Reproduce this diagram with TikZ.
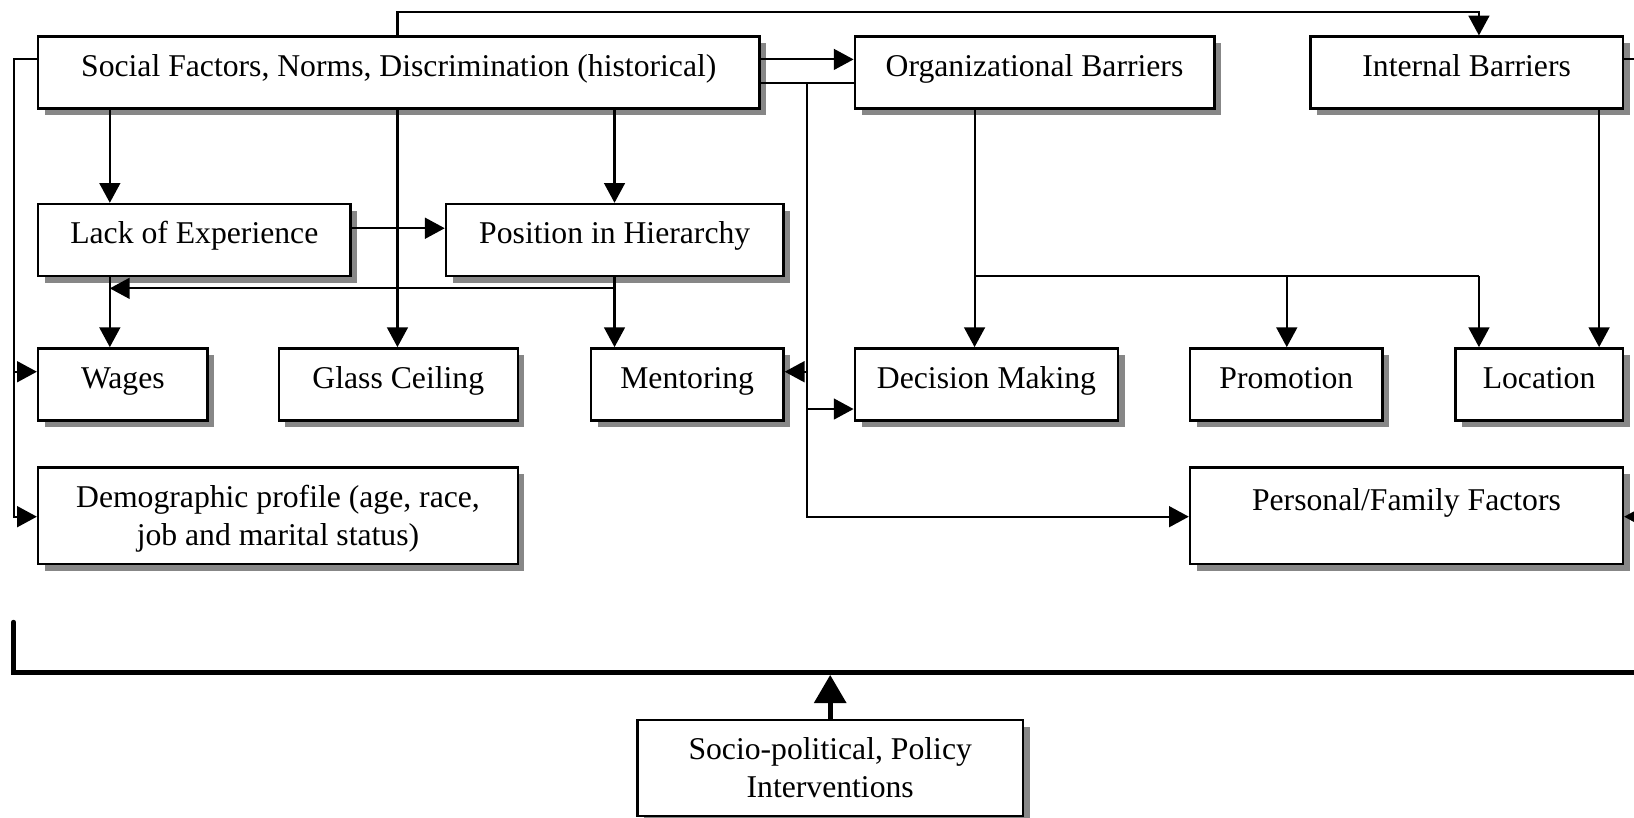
\documentclass[tikz,border=0pt]{standalone}
\usepackage{fontspec}
\setmainfont{Liberation Serif}
\usetikzlibrary{arrows.meta,shadows}
\tikzset{
  mybox/.style={draw, line width=1.2pt, fill=white, inner sep=0pt, align=center,
    font=\fontsize{15.2}{18.3}\selectfont,
    drop shadow={shadow xshift=3.2pt, shadow yshift=-3.2pt, fill=black!47, opacity=1}},
  oneline/.style={text height=9.1pt, text depth=5.5pt},
  cn/.style={line width=1pt},
  myarr/.style={-{Triangle[length=9.5pt,width=10pt]}},
  thickbus/.style={line width=2.3pt},
  thickarr/.style={line width=2.5pt, -{Triangle[length=13.5pt,width=15pt]}}
}
\newcommand\Bx[7][]{\node[mybox,#1,minimum width={(#5-#3)*0.5pt},minimum height={(#6-#4)*0.5pt}] (#2) at ({(#3+#5)/2},{(#4+#6)/2}) {#7};}
\newcommand\topstrut{\rule{0pt}{13.5pt}}
\begin{document}
\begin{tikzpicture}[x=0.5pt,y=-0.5pt]
\useasboundingbox (0,0) rectangle (1568,784);
\clip (0,0) rectangle (1568,784);
% coordinates for connector routes
\coordinate (topL) at (381.4,11.5);
\coordinate (topR) at (1419.2,11.5);
\coordinate (lbTop) at (13.5,57);
\coordinate (lbW) at (13.5,356.7);
\coordinate (lbD) at (13.5,495.8);
\coordinate (xLack) at (105.4,0);
\coordinate (xPos) at (589.7,0);
\coordinate (yLP) at (0,219);
\coordinate (yBack) at (0,276.7);
\coordinate (yLow) at (0,80);
\coordinate (mbTop) at (774,80);
\coordinate (mbM) at (774,356.7);
\coordinate (mbD) at (774,392.5);
\coordinate (mbP) at (774,495.8);
\coordinate (xOrg) at (935.2,264.5);
\coordinate (xProm) at (1234.8,264.5);
\coordinate (xLoc) at (1419.2,264.5);
\coordinate (xInt) at (1534.5,0);
\coordinate (rEdgeI) at (1580,57);
\coordinate (rEdgeP) at (1580,495.8);
\coordinate (busTop) at (13,597);
\coordinate (busCorner) at (13,645.5);
\coordinate (busRight) at (1580,645.5);
\coordinate (busHit) at (796.65,647.6);

% boxes
\Bx[oneline]{social}{36.6}{35.2}{728.7}{104}{Social Factors, Norms, Discrimination (historical)}
\Bx[oneline]{org}{820.3}{35.2}{1165.2}{104}{Organizational Barriers}
\Bx[oneline]{internal}{1257.5}{35.2}{1557.3}{104}{Internal Barriers}
\Bx[oneline]{lack}{36.6}{195.8}{336.3}{264.8}{Lack of Experience}
\Bx[oneline]{position}{428}{195.8}{751.8}{264.8}{Position in Hierarchy}
\Bx[oneline]{wages}{36.6}{334.3}{199.2}{403.7}{Wages}
\Bx[oneline]{glass}{267.5}{334.3}{496.9}{403.7}{Glass Ceiling}
\Bx[oneline]{mentoring}{567}{334.3}{751.8}{403.7}{Mentoring}
\Bx[oneline]{decision}{820.3}{334.3}{1073}{403.7}{Decision Making}
\Bx[oneline]{promotion}{1142}{334.3}{1326.8}{403.7}{Promotion}
\Bx[oneline]{location}{1396.5}{334.3}{1557.3}{403.7}{Location}
\Bx{demographic}{36.6}{448.4}{496.9}{541.2}{\topstrut Demographic profile (age, race,\\ job and marital status)}
\Bx{personal}{1142}{448.4}{1557.3}{541.2}{\topstrut Personal/Family Factors\\ \mbox{}}
\Bx{socio}{611.7}{691}{981.6}{783}{Socio-political, Policy\\ Interventions}

% connectors
\draw[cn,myarr] (social.north -| topL) -- (topL) -- (topR) -- (topR |- internal.north);
\draw[cn,myarr] (social.west |- lbTop) -- (lbTop) -- (lbD) -- (demographic.west |- lbD);
\draw[cn,myarr] (lbW) -- (wages.west |- lbW);
\draw[cn,myarr] (social.south -| xLack) -- (lack.north -| xLack);
\draw[cn,myarr] (social.south -| topL) -- (glass.north -| topL);
\draw[cn,myarr] (social.south -| xPos) -- (position.north -| xPos);
\draw[cn,myarr] (social.east |- lbTop) -- (org.west |- lbTop);
\draw[cn] (social.east |- yLow) -- (org.west |- yLow);
\draw[cn,myarr] (mbTop) -- (mbP) -- (personal.west |- mbP);
\draw[cn,myarr] (mbM) -- (mentoring.east |- mbM);
\draw[cn,myarr] (mbD) -- (decision.west |- mbD);
\draw[cn,myarr] (lack.east |- yLP) -- (position.west |- yLP);
\draw[cn,myarr] (lack.south -| xLack) -- (wages.north -| xLack);
\draw[cn,myarr] (position.south -| xPos) -- (mentoring.north -| xPos);
\draw[cn,myarr] (xPos |- yBack) -- (xLack |- yBack);
\draw[cn,myarr] (org.south -| xOrg) -- (decision.north -| xOrg);
\draw[cn] (xOrg) -- (xLoc);
\draw[cn,myarr] (xProm) -- (promotion.north -| xProm);
\draw[cn,myarr] (xLoc) -- (location.north -| xLoc);
\draw[cn,myarr] (internal.south -| xInt) -- (location.north -| xInt);
\draw[cn] (internal.east |- rEdgeI) -- (rEdgeI);
\draw[cn,myarr] (rEdgeP) -- (personal.east |- rEdgeP);
\draw[thickbus] (busTop) -- (busCorner) -- (busRight);
\draw[thickbus,line cap=round] (busTop) -- ([yshift=-0.1pt]busTop);
\draw[thickarr] (socio.north) -- (busHit);
\end{tikzpicture}
\end{document}
